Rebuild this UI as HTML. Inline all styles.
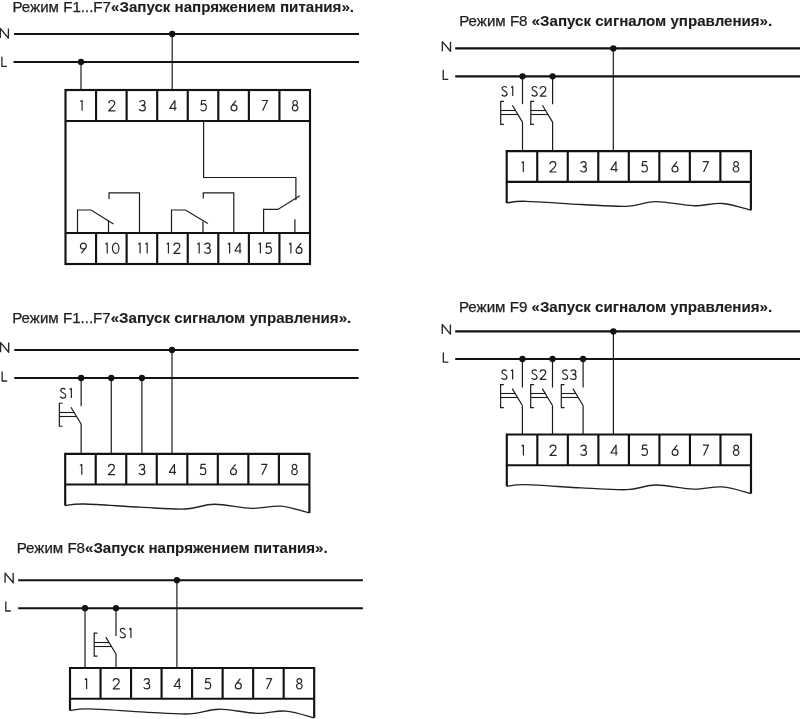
<!DOCTYPE html>
<html><head><meta charset="utf-8"><style>
html,body{margin:0;padding:0;background:#fff;}
body{width:800px;height:719px;overflow:hidden;}
svg{display:block;will-change:transform;}
text{font-family:"Liberation Sans",sans-serif;fill:#1e1e1e;}
.t{font-size:13.8px;stroke:#1e1e1e;stroke-width:0.25px;}
.t tspan{stroke-width:0.1px;}
use{fill:none;stroke:#262626;stroke-linecap:butt;stroke-linejoin:round;}
</style></head><body>
<svg width="800" height="719" viewBox="0 0 800 719">
<defs><path id="g1" d="M0.55,1.7 L2.55,0.55 V11.45"/><path id="g2" d="M0.75,3.3 C0.85,1.6 2.2,0.55 3.9,0.55 C5.8,0.55 7.05,1.8 7.05,3.5 C7.05,4.7 6.4,5.6 5.5,6.5 L0.7,11.45 H7.8"/><path id="g3" d="M0.7,2.5 C1.3,1.3 2.4,0.55 3.8,0.55 C5.4,0.55 6.5,1.7 6.5,3.2 C6.5,4.7 5.2,5.75 3.2,5.75 C5.5,5.75 6.85,7.0 6.85,8.65 C6.85,10.3 5.5,11.45 3.7,11.45 C2.2,11.45 1.0,10.8 0.45,9.7"/><path id="g4" d="M6.0,11.45 V0.55 L0.55,8.9 H7.7"/><path id="g5" d="M6.5,0.55 H1.75 L1.2,5.0 C1.9,4.5 2.9,4.2 3.8,4.2 C5.6,4.2 6.65,5.7 6.65,7.8 C6.65,10.0 5.3,11.45 3.4,11.45 C2.1,11.45 1.1,10.9 0.55,10.1"/><path id="g6" d="M5.9,0.55 L1.247,6.323 M0.550,8.300 a3.150,3.150 0 1,0 6.300,0 a3.150,3.150 0 1,0 -6.300,0"/><path id="g7" d="M0.55,0.55 H6.5 L1.4,11.45"/><path id="g8" d="M1.050,3.000 a2.450,2.450 0 1,0 4.900,0 a2.450,2.450 0 1,0 -4.900,0 M0.550,8.500 a2.950,2.950 0 1,0 5.900,0 a2.950,2.950 0 1,0 -5.900,0"/><path id="g9" d="M0.550,3.700 a3.150,3.150 0 1,0 6.300,0 a3.150,3.150 0 1,0 -6.300,0 M6.153,5.677 L1.5,11.45"/><path id="g0" d="M0.55,6 C0.55,2.9 2.1,0.55 4,0.55 C5.9,0.55 7.45,2.9 7.45,6 C7.45,9.1 5.9,11.45 4,11.45 C2.1,11.45 0.55,9.1 0.55,6 Z"/><path id="gS" d="M6.3,1.9 C5.7,1.0 4.8,0.55 3.7,0.55 C2.1,0.55 1.0,1.5 1.0,2.9 C1.0,4.3 2.2,4.95 3.6,5.5 C5.5,6.2 6.65,7.0 6.65,8.7 C6.65,10.3 5.3,11.45 3.5,11.45 C2.1,11.45 1.0,10.8 0.45,9.8"/><path id="gN" d="M0.65,11.45 V0.55 L9.85,11.45 V0.55"/><path id="gL" d="M0.6,0.55 V11.45 H6.3"/></defs>
<text x="12.40" y="11.50" class="t" textLength="341.60" lengthAdjust="spacingAndGlyphs">Режим F1...F7<tspan font-weight="bold">«Запуск напряжением питания».</tspan></text>
<use href="#gN" transform="translate(-0.30,28.00) scale(0.8833)" stroke-width="1.528"/>
<use href="#gL" transform="translate(1.40,56.20) scale(0.8833)" stroke-width="1.472"/>
<line x1="14.00" y1="34.00" x2="359.00" y2="34.00" stroke="#121212" stroke-width="2.15"/>
<line x1="13.50" y1="62.00" x2="359.00" y2="62.00" stroke="#121212" stroke-width="2.15"/>
<line x1="81.00" y1="62.00" x2="81.00" y2="90.00" stroke="#1c1c1c" stroke-width="1.2"/>
<line x1="172.20" y1="34.00" x2="172.20" y2="90.00" stroke="#1c1c1c" stroke-width="1.2"/>
<circle cx="81.00" cy="62.00" r="3.15" fill="#121212"/>
<circle cx="172.20" cy="34.00" r="3.15" fill="#121212"/>
<rect x="65.5" y="90" width="244.5" height="174" fill="none" stroke="#121212" stroke-width="2.15"/>
<line x1="65.50" y1="121.00" x2="310.00" y2="121.00" stroke="#121212" stroke-width="2.15"/>
<line x1="65.50" y1="233.00" x2="310.00" y2="233.00" stroke="#121212" stroke-width="2.15"/>
<line x1="96.06" y1="90.00" x2="96.06" y2="121.00" stroke="#121212" stroke-width="2.15"/>
<line x1="96.06" y1="233.00" x2="96.06" y2="264.00" stroke="#121212" stroke-width="2.15"/>
<line x1="126.62" y1="90.00" x2="126.62" y2="121.00" stroke="#121212" stroke-width="2.15"/>
<line x1="126.62" y1="233.00" x2="126.62" y2="264.00" stroke="#121212" stroke-width="2.15"/>
<line x1="157.19" y1="90.00" x2="157.19" y2="121.00" stroke="#121212" stroke-width="2.15"/>
<line x1="157.19" y1="233.00" x2="157.19" y2="264.00" stroke="#121212" stroke-width="2.15"/>
<line x1="187.75" y1="90.00" x2="187.75" y2="121.00" stroke="#121212" stroke-width="2.15"/>
<line x1="187.75" y1="233.00" x2="187.75" y2="264.00" stroke="#121212" stroke-width="2.15"/>
<line x1="218.31" y1="90.00" x2="218.31" y2="121.00" stroke="#121212" stroke-width="2.15"/>
<line x1="218.31" y1="233.00" x2="218.31" y2="264.00" stroke="#121212" stroke-width="2.15"/>
<line x1="248.88" y1="90.00" x2="248.88" y2="121.00" stroke="#121212" stroke-width="2.15"/>
<line x1="248.88" y1="233.00" x2="248.88" y2="264.00" stroke="#121212" stroke-width="2.15"/>
<line x1="279.44" y1="90.00" x2="279.44" y2="121.00" stroke="#121212" stroke-width="2.15"/>
<line x1="279.44" y1="233.00" x2="279.44" y2="264.00" stroke="#121212" stroke-width="2.15"/>
<use href="#g1" transform="translate(79.72,100.00) scale(0.9417)" stroke-width="1.274"/>
<use href="#g9" transform="translate(79.90,242.60) scale(0.9417)" stroke-width="1.274"/>
<use href="#g2" transform="translate(108.07,100.00) scale(0.9417)" stroke-width="1.274"/>
<use href="#g1" transform="translate(104.82,242.60) scale(0.9417)" stroke-width="1.274"/>
<use href="#g0" transform="translate(111.94,242.60) scale(0.9417)" stroke-width="1.274"/>
<use href="#g3" transform="translate(138.82,100.00) scale(0.9417)" stroke-width="1.274"/>
<use href="#g1" transform="translate(137.69,242.60) scale(0.9417)" stroke-width="1.274"/>
<use href="#g1" transform="translate(144.81,242.60) scale(0.9417)" stroke-width="1.274"/>
<use href="#g4" transform="translate(169.24,100.00) scale(0.9417)" stroke-width="1.274"/>
<use href="#g1" transform="translate(166.04,242.60) scale(0.9417)" stroke-width="1.274"/>
<use href="#g2" transform="translate(173.16,242.60) scale(0.9417)" stroke-width="1.274"/>
<use href="#g5" transform="translate(200.04,100.00) scale(0.9417)" stroke-width="1.274"/>
<use href="#g1" transform="translate(196.79,242.60) scale(0.9417)" stroke-width="1.274"/>
<use href="#g3" transform="translate(203.91,242.60) scale(0.9417)" stroke-width="1.274"/>
<use href="#g6" transform="translate(230.51,100.00) scale(0.9417)" stroke-width="1.274"/>
<use href="#g1" transform="translate(227.21,242.60) scale(0.9417)" stroke-width="1.274"/>
<use href="#g4" transform="translate(234.33,242.60) scale(0.9417)" stroke-width="1.274"/>
<use href="#g7" transform="translate(261.31,100.00) scale(0.9417)" stroke-width="1.274"/>
<use href="#g1" transform="translate(258.01,242.60) scale(0.9417)" stroke-width="1.274"/>
<use href="#g5" transform="translate(265.13,242.60) scale(0.9417)" stroke-width="1.274"/>
<use href="#g8" transform="translate(291.82,100.00) scale(0.9417)" stroke-width="1.274"/>
<use href="#g1" transform="translate(288.48,242.60) scale(0.9417)" stroke-width="1.274"/>
<use href="#g6" transform="translate(295.59,242.60) scale(0.9417)" stroke-width="1.274"/>
<polyline points="203.60,121.00 203.60,177.50 295.90,177.50 295.90,200.20" fill="none" stroke="#1c1c1c" stroke-width="1.2" stroke-linejoin="miter"/>
<polyline points="299.80,195.80 277.90,209.40 263.60,209.40 263.60,233.00" fill="none" stroke="#1c1c1c" stroke-width="1.2" stroke-linejoin="miter"/>
<polyline points="294.90,219.20 294.90,233.00" fill="none" stroke="#1c1c1c" stroke-width="1.2" stroke-linejoin="miter"/>
<polyline points="77.50,233.00 77.50,210.00 91.00,210.00 113.50,224.00" fill="none" stroke="#1c1c1c" stroke-width="1.2" stroke-linejoin="miter"/>
<polyline points="108.50,220.50 108.50,233.00" fill="none" stroke="#1c1c1c" stroke-width="1.2" stroke-linejoin="miter"/>
<polyline points="109.00,199.00 109.00,192.80 139.50,192.80 139.50,233.00" fill="none" stroke="#1c1c1c" stroke-width="1.2" stroke-linejoin="miter"/>
<polyline points="171.50,233.00 171.50,210.00 185.50,210.00 207.80,223.50" fill="none" stroke="#1c1c1c" stroke-width="1.2" stroke-linejoin="miter"/>
<polyline points="203.00,221.50 203.00,233.00" fill="none" stroke="#1c1c1c" stroke-width="1.2" stroke-linejoin="miter"/>
<polyline points="203.30,198.50 203.30,192.80 233.80,192.80 233.80,233.00" fill="none" stroke="#1c1c1c" stroke-width="1.2" stroke-linejoin="miter"/>
<text x="459.20" y="25.80" class="t" textLength="313.00" lengthAdjust="spacingAndGlyphs">Режим F8 <tspan font-weight="bold">«Запуск сигналом управления».</tspan></text>
<use href="#gN" transform="translate(441.80,41.15) scale(0.8833)" stroke-width="1.528"/>
<use href="#gL" transform="translate(442.70,69.35) scale(0.8833)" stroke-width="1.472"/>
<line x1="455.20" y1="48.40" x2="800.00" y2="48.40" stroke="#121212" stroke-width="2.15"/>
<line x1="455.20" y1="76.30" x2="800.00" y2="76.30" stroke="#121212" stroke-width="2.15"/>
<line x1="522.50" y1="76.30" x2="522.50" y2="104.20" stroke="#1c1c1c" stroke-width="1.2"/>
<line x1="512.30" y1="105.30" x2="522.50" y2="122.10" stroke="#1c1c1c" stroke-width="1.2"/>
<line x1="522.50" y1="122.10" x2="522.50" y2="151.10" stroke="#1c1c1c" stroke-width="1.2"/>
<polyline points="503.90,101.30 500.70,101.30 500.70,124.30 503.90,124.30" fill="none" stroke="#1c1c1c" stroke-width="1.2" stroke-linejoin="miter"/>
<line x1="500.70" y1="110.50" x2="515.46" y2="110.50" stroke="#1c1c1c" stroke-width="1.1"/>
<line x1="500.70" y1="114.50" x2="517.89" y2="114.50" stroke="#1c1c1c" stroke-width="1.1"/>
<use href="#gS" transform="translate(501.20,86.00) scale(0.8833)" stroke-width="1.358"/>
<use href="#g1" transform="translate(510.46,86.00) scale(0.8833)" stroke-width="1.358"/>
<line x1="552.60" y1="76.30" x2="552.60" y2="104.20" stroke="#1c1c1c" stroke-width="1.2"/>
<line x1="542.40" y1="105.30" x2="552.60" y2="122.10" stroke="#1c1c1c" stroke-width="1.2"/>
<line x1="552.60" y1="122.10" x2="552.60" y2="151.10" stroke="#1c1c1c" stroke-width="1.2"/>
<polyline points="534.00,101.30 530.80,101.30 530.80,124.30 534.00,124.30" fill="none" stroke="#1c1c1c" stroke-width="1.2" stroke-linejoin="miter"/>
<line x1="530.80" y1="110.50" x2="545.56" y2="110.50" stroke="#1c1c1c" stroke-width="1.1"/>
<line x1="530.80" y1="114.50" x2="547.99" y2="114.50" stroke="#1c1c1c" stroke-width="1.1"/>
<use href="#gS" transform="translate(531.30,86.00) scale(0.8833)" stroke-width="1.358"/>
<use href="#g2" transform="translate(539.56,86.00) scale(0.8833)" stroke-width="1.358"/>
<line x1="613.30" y1="48.40" x2="613.30" y2="151.10" stroke="#1c1c1c" stroke-width="1.2"/>
<circle cx="522.50" cy="76.30" r="3.15" fill="#121212"/>
<circle cx="552.60" cy="76.30" r="3.15" fill="#121212"/>
<circle cx="613.30" cy="48.40" r="3.15" fill="#121212"/>
<path d="M506.70,202.90 V151.10 H750.90 V210.20" fill="none" stroke="#121212" stroke-width="2.15"/>
<line x1="506.70" y1="181.80" x2="750.90" y2="181.80" stroke="#121212" stroke-width="2.15"/>
<line x1="537.23" y1="151.10" x2="537.23" y2="181.80" stroke="#121212" stroke-width="2.15"/>
<line x1="567.75" y1="151.10" x2="567.75" y2="181.80" stroke="#121212" stroke-width="2.15"/>
<line x1="598.27" y1="151.10" x2="598.27" y2="181.80" stroke="#121212" stroke-width="2.15"/>
<line x1="628.80" y1="151.10" x2="628.80" y2="181.80" stroke="#121212" stroke-width="2.15"/>
<line x1="659.33" y1="151.10" x2="659.33" y2="181.80" stroke="#121212" stroke-width="2.15"/>
<line x1="689.85" y1="151.10" x2="689.85" y2="181.80" stroke="#121212" stroke-width="2.15"/>
<line x1="720.38" y1="151.10" x2="720.38" y2="181.80" stroke="#121212" stroke-width="2.15"/>
<path d="M506.70,202.90 C509.90,202.63 513.40,201.03 525.90,201.30 C538.40,201.57 564.90,203.67 581.70,204.50 C598.50,205.33 614.35,206.78 626.70,206.30 C639.05,205.82 644.72,201.70 655.80,201.60 C666.88,201.50 682.10,205.38 693.20,205.70 C704.30,206.02 712.78,202.75 722.40,203.50 C732.02,204.25 746.15,209.08 750.90,210.20" fill="none" stroke="#222" stroke-width="1.35"/>
<use href="#g1" transform="translate(520.90,161.20) scale(0.9417)" stroke-width="1.274"/>
<use href="#g2" transform="translate(549.21,161.20) scale(0.9417)" stroke-width="1.274"/>
<use href="#g3" transform="translate(579.93,161.20) scale(0.9417)" stroke-width="1.274"/>
<use href="#g4" transform="translate(610.31,161.20) scale(0.9417)" stroke-width="1.274"/>
<use href="#g5" transform="translate(641.07,161.20) scale(0.9417)" stroke-width="1.274"/>
<use href="#g6" transform="translate(671.50,161.20) scale(0.9417)" stroke-width="1.274"/>
<use href="#g7" transform="translate(702.26,161.20) scale(0.9417)" stroke-width="1.274"/>
<use href="#g8" transform="translate(732.74,161.20) scale(0.9417)" stroke-width="1.274"/>
<text x="12.20" y="322.75" class="t" textLength="339.05" lengthAdjust="spacingAndGlyphs">Режим F1...F7<tspan font-weight="bold">«Запуск сигналом управления».</tspan></text>
<use href="#gN" transform="translate(0.00,342.10) scale(0.8833)" stroke-width="1.528"/>
<use href="#gL" transform="translate(1.60,370.90) scale(0.8833)" stroke-width="1.472"/>
<line x1="14.30" y1="350.00" x2="358.60" y2="350.00" stroke="#121212" stroke-width="2.15"/>
<line x1="14.30" y1="378.00" x2="358.60" y2="378.00" stroke="#121212" stroke-width="2.15"/>
<line x1="81.15" y1="378.00" x2="81.15" y2="406.15" stroke="#1c1c1c" stroke-width="1.2"/>
<line x1="70.95" y1="407.25" x2="81.15" y2="424.05" stroke="#1c1c1c" stroke-width="1.2"/>
<line x1="81.15" y1="424.05" x2="81.15" y2="453.80" stroke="#1c1c1c" stroke-width="1.2"/>
<polyline points="62.55,403.25 59.35,403.25 59.35,426.25 62.55,426.25" fill="none" stroke="#1c1c1c" stroke-width="1.2" stroke-linejoin="miter"/>
<line x1="59.35" y1="412.50" x2="74.14" y2="412.50" stroke="#1c1c1c" stroke-width="1.1"/>
<line x1="59.35" y1="416.50" x2="76.57" y2="416.50" stroke="#1c1c1c" stroke-width="1.1"/>
<use href="#gS" transform="translate(59.85,387.95) scale(0.8833)" stroke-width="1.358"/>
<use href="#g1" transform="translate(69.11,387.95) scale(0.8833)" stroke-width="1.358"/>
<line x1="111.25" y1="378.00" x2="111.25" y2="453.80" stroke="#1c1c1c" stroke-width="1.2"/>
<line x1="141.90" y1="378.00" x2="141.90" y2="453.80" stroke="#1c1c1c" stroke-width="1.2"/>
<line x1="172.00" y1="350.00" x2="172.00" y2="453.80" stroke="#1c1c1c" stroke-width="1.2"/>
<circle cx="81.15" cy="378.00" r="3.15" fill="#121212"/>
<circle cx="111.25" cy="378.00" r="3.15" fill="#121212"/>
<circle cx="141.90" cy="378.00" r="3.15" fill="#121212"/>
<circle cx="172.00" cy="350.00" r="3.15" fill="#121212"/>
<path d="M65.20,505.60 V453.80 H309.40 V512.90" fill="none" stroke="#121212" stroke-width="2.15"/>
<line x1="65.20" y1="484.50" x2="309.40" y2="484.50" stroke="#121212" stroke-width="2.15"/>
<line x1="95.72" y1="453.80" x2="95.72" y2="484.50" stroke="#121212" stroke-width="2.15"/>
<line x1="126.25" y1="453.80" x2="126.25" y2="484.50" stroke="#121212" stroke-width="2.15"/>
<line x1="156.77" y1="453.80" x2="156.77" y2="484.50" stroke="#121212" stroke-width="2.15"/>
<line x1="187.30" y1="453.80" x2="187.30" y2="484.50" stroke="#121212" stroke-width="2.15"/>
<line x1="217.82" y1="453.80" x2="217.82" y2="484.50" stroke="#121212" stroke-width="2.15"/>
<line x1="248.35" y1="453.80" x2="248.35" y2="484.50" stroke="#121212" stroke-width="2.15"/>
<line x1="278.88" y1="453.80" x2="278.88" y2="484.50" stroke="#121212" stroke-width="2.15"/>
<path d="M65.20,505.60 C68.40,505.33 71.90,503.73 84.40,504.00 C96.90,504.27 123.40,506.37 140.20,507.20 C157.00,508.03 172.85,509.48 185.20,509.00 C197.55,508.52 203.22,504.40 214.30,504.30 C225.38,504.20 240.60,508.08 251.70,508.40 C262.80,508.72 271.28,505.45 280.90,506.20 C290.52,506.95 304.65,511.78 309.40,512.90" fill="none" stroke="#222" stroke-width="1.35"/>
<use href="#g1" transform="translate(79.40,463.90) scale(0.9417)" stroke-width="1.274"/>
<use href="#g2" transform="translate(107.72,463.90) scale(0.9417)" stroke-width="1.274"/>
<use href="#g3" transform="translate(138.43,463.90) scale(0.9417)" stroke-width="1.274"/>
<use href="#g4" transform="translate(168.81,463.90) scale(0.9417)" stroke-width="1.274"/>
<use href="#g5" transform="translate(199.57,463.90) scale(0.9417)" stroke-width="1.274"/>
<use href="#g6" transform="translate(230.00,463.90) scale(0.9417)" stroke-width="1.274"/>
<use href="#g7" transform="translate(260.76,463.90) scale(0.9417)" stroke-width="1.274"/>
<use href="#g8" transform="translate(291.24,463.90) scale(0.9417)" stroke-width="1.274"/>
<text x="458.90" y="311.90" class="t" textLength="313.30" lengthAdjust="spacingAndGlyphs">Режим F9 <tspan font-weight="bold">«Запуск сигналом управления».</tspan></text>
<use href="#gN" transform="translate(441.70,324.00) scale(0.8833)" stroke-width="1.528"/>
<use href="#gL" transform="translate(442.80,352.00) scale(0.8833)" stroke-width="1.472"/>
<line x1="455.20" y1="331.40" x2="800.00" y2="331.40" stroke="#121212" stroke-width="2.15"/>
<line x1="455.20" y1="359.00" x2="800.00" y2="359.00" stroke="#121212" stroke-width="2.15"/>
<line x1="522.40" y1="359.00" x2="522.40" y2="387.55" stroke="#1c1c1c" stroke-width="1.2"/>
<line x1="512.20" y1="388.65" x2="522.40" y2="405.45" stroke="#1c1c1c" stroke-width="1.2"/>
<line x1="522.40" y1="405.45" x2="522.40" y2="434.50" stroke="#1c1c1c" stroke-width="1.2"/>
<polyline points="503.80,384.65 500.60,384.65 500.60,407.65 503.80,407.65" fill="none" stroke="#1c1c1c" stroke-width="1.2" stroke-linejoin="miter"/>
<line x1="500.60" y1="393.50" x2="515.14" y2="393.50" stroke="#1c1c1c" stroke-width="1.1"/>
<line x1="500.60" y1="397.50" x2="517.57" y2="397.50" stroke="#1c1c1c" stroke-width="1.1"/>
<use href="#gS" transform="translate(501.10,369.35) scale(0.8833)" stroke-width="1.358"/>
<use href="#g1" transform="translate(510.36,369.35) scale(0.8833)" stroke-width="1.358"/>
<line x1="552.50" y1="359.00" x2="552.50" y2="387.55" stroke="#1c1c1c" stroke-width="1.2"/>
<line x1="542.30" y1="388.65" x2="552.50" y2="405.45" stroke="#1c1c1c" stroke-width="1.2"/>
<line x1="552.50" y1="405.45" x2="552.50" y2="434.50" stroke="#1c1c1c" stroke-width="1.2"/>
<polyline points="533.90,384.65 530.70,384.65 530.70,407.65 533.90,407.65" fill="none" stroke="#1c1c1c" stroke-width="1.2" stroke-linejoin="miter"/>
<line x1="530.70" y1="393.50" x2="545.24" y2="393.50" stroke="#1c1c1c" stroke-width="1.1"/>
<line x1="530.70" y1="397.50" x2="547.67" y2="397.50" stroke="#1c1c1c" stroke-width="1.1"/>
<use href="#gS" transform="translate(531.20,369.35) scale(0.8833)" stroke-width="1.358"/>
<use href="#g2" transform="translate(539.46,369.35) scale(0.8833)" stroke-width="1.358"/>
<line x1="583.10" y1="359.00" x2="583.10" y2="387.55" stroke="#1c1c1c" stroke-width="1.2"/>
<line x1="572.90" y1="388.65" x2="583.10" y2="405.45" stroke="#1c1c1c" stroke-width="1.2"/>
<line x1="583.10" y1="405.45" x2="583.10" y2="434.50" stroke="#1c1c1c" stroke-width="1.2"/>
<polyline points="564.50,384.65 561.30,384.65 561.30,407.65 564.50,407.65" fill="none" stroke="#1c1c1c" stroke-width="1.2" stroke-linejoin="miter"/>
<line x1="561.30" y1="393.50" x2="575.84" y2="393.50" stroke="#1c1c1c" stroke-width="1.1"/>
<line x1="561.30" y1="397.50" x2="578.27" y2="397.50" stroke="#1c1c1c" stroke-width="1.1"/>
<use href="#gS" transform="translate(561.80,369.35) scale(0.8833)" stroke-width="1.358"/>
<use href="#g3" transform="translate(570.06,369.35) scale(0.8833)" stroke-width="1.358"/>
<line x1="613.40" y1="331.40" x2="613.40" y2="434.50" stroke="#1c1c1c" stroke-width="1.2"/>
<circle cx="522.40" cy="359.00" r="3.15" fill="#121212"/>
<circle cx="552.50" cy="359.00" r="3.15" fill="#121212"/>
<circle cx="583.10" cy="359.00" r="3.15" fill="#121212"/>
<circle cx="613.40" cy="331.40" r="3.15" fill="#121212"/>
<path d="M506.80,486.30 V434.50 H751.00 V493.60" fill="none" stroke="#121212" stroke-width="2.15"/>
<line x1="506.80" y1="465.20" x2="751.00" y2="465.20" stroke="#121212" stroke-width="2.15"/>
<line x1="537.33" y1="434.50" x2="537.33" y2="465.20" stroke="#121212" stroke-width="2.15"/>
<line x1="567.85" y1="434.50" x2="567.85" y2="465.20" stroke="#121212" stroke-width="2.15"/>
<line x1="598.38" y1="434.50" x2="598.38" y2="465.20" stroke="#121212" stroke-width="2.15"/>
<line x1="628.90" y1="434.50" x2="628.90" y2="465.20" stroke="#121212" stroke-width="2.15"/>
<line x1="659.42" y1="434.50" x2="659.42" y2="465.20" stroke="#121212" stroke-width="2.15"/>
<line x1="689.95" y1="434.50" x2="689.95" y2="465.20" stroke="#121212" stroke-width="2.15"/>
<line x1="720.48" y1="434.50" x2="720.48" y2="465.20" stroke="#121212" stroke-width="2.15"/>
<path d="M506.80,486.30 C510.00,486.03 513.50,484.43 526.00,484.70 C538.50,484.97 565.00,487.07 581.80,487.90 C598.60,488.73 614.45,490.18 626.80,489.70 C639.15,489.22 644.82,485.10 655.90,485.00 C666.98,484.90 682.20,488.78 693.30,489.10 C704.40,489.42 712.88,486.15 722.50,486.90 C732.12,487.65 746.25,492.48 751.00,493.60" fill="none" stroke="#222" stroke-width="1.35"/>
<use href="#g1" transform="translate(521.00,444.60) scale(0.9417)" stroke-width="1.274"/>
<use href="#g2" transform="translate(549.31,444.60) scale(0.9417)" stroke-width="1.274"/>
<use href="#g3" transform="translate(580.03,444.60) scale(0.9417)" stroke-width="1.274"/>
<use href="#g4" transform="translate(610.41,444.60) scale(0.9417)" stroke-width="1.274"/>
<use href="#g5" transform="translate(641.17,444.60) scale(0.9417)" stroke-width="1.274"/>
<use href="#g6" transform="translate(671.60,444.60) scale(0.9417)" stroke-width="1.274"/>
<use href="#g7" transform="translate(702.36,444.60) scale(0.9417)" stroke-width="1.274"/>
<use href="#g8" transform="translate(732.84,444.60) scale(0.9417)" stroke-width="1.274"/>
<text x="16.70" y="552.90" class="t" textLength="311.00" lengthAdjust="spacingAndGlyphs">Режим F8<tspan font-weight="bold">«Запуск напряжением питания».</tspan></text>
<use href="#gN" transform="translate(4.50,572.60) scale(0.8833)" stroke-width="1.528"/>
<use href="#gL" transform="translate(5.30,600.90) scale(0.8833)" stroke-width="1.472"/>
<line x1="18.20" y1="580.20" x2="362.90" y2="580.20" stroke="#121212" stroke-width="2.15"/>
<line x1="18.20" y1="608.20" x2="362.90" y2="608.20" stroke="#121212" stroke-width="2.15"/>
<line x1="85.00" y1="608.20" x2="85.00" y2="668.00" stroke="#1c1c1c" stroke-width="1.2"/>
<line x1="116.00" y1="608.20" x2="116.00" y2="636.05" stroke="#1c1c1c" stroke-width="1.2"/>
<line x1="105.80" y1="637.15" x2="116.00" y2="653.95" stroke="#1c1c1c" stroke-width="1.2"/>
<line x1="116.00" y1="653.95" x2="116.00" y2="668.00" stroke="#1c1c1c" stroke-width="1.2"/>
<polyline points="97.40,633.15 94.20,633.15 94.20,656.15 97.40,656.15" fill="none" stroke="#1c1c1c" stroke-width="1.2" stroke-linejoin="miter"/>
<line x1="94.20" y1="642.50" x2="109.05" y2="642.50" stroke="#1c1c1c" stroke-width="1.1"/>
<line x1="94.20" y1="646.50" x2="111.48" y2="646.50" stroke="#1c1c1c" stroke-width="1.1"/>
<use href="#gS" transform="translate(119.50,627.90) scale(0.8750)" stroke-width="1.371"/>
<use href="#g1" transform="translate(128.70,627.90) scale(0.8750)" stroke-width="1.371"/>
<line x1="176.90" y1="580.20" x2="176.90" y2="668.00" stroke="#1c1c1c" stroke-width="1.2"/>
<circle cx="85.00" cy="608.20" r="3.15" fill="#121212"/>
<circle cx="116.00" cy="608.20" r="3.15" fill="#121212"/>
<circle cx="176.90" cy="580.20" r="3.15" fill="#121212"/>
<path d="M70.00,710.50 V668.00 H314.20 V717.80" fill="none" stroke="#121212" stroke-width="2.15"/>
<line x1="70.00" y1="698.70" x2="314.20" y2="698.70" stroke="#121212" stroke-width="2.15"/>
<line x1="100.53" y1="668.00" x2="100.53" y2="698.70" stroke="#121212" stroke-width="2.15"/>
<line x1="131.05" y1="668.00" x2="131.05" y2="698.70" stroke="#121212" stroke-width="2.15"/>
<line x1="161.57" y1="668.00" x2="161.57" y2="698.70" stroke="#121212" stroke-width="2.15"/>
<line x1="192.10" y1="668.00" x2="192.10" y2="698.70" stroke="#121212" stroke-width="2.15"/>
<line x1="222.62" y1="668.00" x2="222.62" y2="698.70" stroke="#121212" stroke-width="2.15"/>
<line x1="253.15" y1="668.00" x2="253.15" y2="698.70" stroke="#121212" stroke-width="2.15"/>
<line x1="283.67" y1="668.00" x2="283.67" y2="698.70" stroke="#121212" stroke-width="2.15"/>
<path d="M70.00,710.50 C73.20,710.23 76.70,708.63 89.20,708.90 C101.70,709.17 128.20,711.27 145.00,712.10 C161.80,712.93 177.65,714.38 190.00,713.90 C202.35,713.42 208.02,709.30 219.10,709.20 C230.18,709.10 245.40,712.98 256.50,713.30 C267.60,713.62 276.08,710.35 285.70,711.10 C295.32,711.85 309.45,716.68 314.20,717.80" fill="none" stroke="#222" stroke-width="1.35"/>
<use href="#g1" transform="translate(84.20,678.10) scale(0.9417)" stroke-width="1.274"/>
<use href="#g2" transform="translate(112.52,678.10) scale(0.9417)" stroke-width="1.274"/>
<use href="#g3" transform="translate(143.23,678.10) scale(0.9417)" stroke-width="1.274"/>
<use href="#g4" transform="translate(173.61,678.10) scale(0.9417)" stroke-width="1.274"/>
<use href="#g5" transform="translate(204.37,678.10) scale(0.9417)" stroke-width="1.274"/>
<use href="#g6" transform="translate(234.80,678.10) scale(0.9417)" stroke-width="1.274"/>
<use href="#g7" transform="translate(265.56,678.10) scale(0.9417)" stroke-width="1.274"/>
<use href="#g8" transform="translate(296.04,678.10) scale(0.9417)" stroke-width="1.274"/>
</svg>
</body></html>
